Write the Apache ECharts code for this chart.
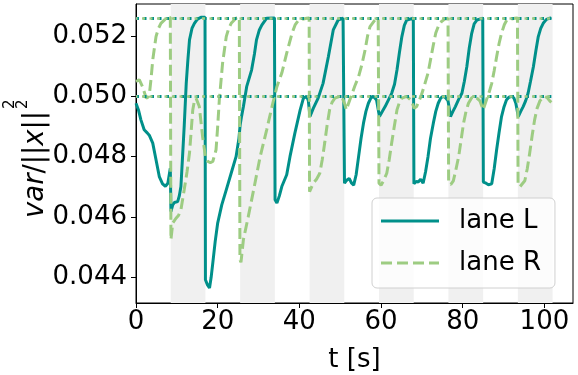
<!DOCTYPE html>
<html>
<head>
<meta charset="utf-8">
<script src="https://cdn.jsdelivr.net/npm/echarts@6.0.0/dist/echarts.min.js"></script>
<style>
  html, body { margin: 0; padding: 0; background: #fff; }
  #chart { width: 578px; height: 375px; }
</style>
</head>
<body>
<div id="chart"></div>
<script>
// lane L (teal, solid): time [s] and var/||x||^2
const tL = [0, 0.6, 1.2, 2.0, 2.8, 3.3, 4.1, 4.9, 5.7, 6.5, 7.2, 7.8, 8.4, 8.55, 9.0, 9.4, 10.2, 10.6, 11.0, 11.4, 11.8, 12.3, 12.7, 13.1, 13.7, 14.3, 15.0, 15.9, 16.9,
  17.0, 17.5, 18.0, 18.4, 18.8, 19.4, 20.0, 21.0, 22.1, 23.3, 24.5, 25.2, 25.5, 25.8, 26.3, 27.1, 28.3, 29.0, 29.5, 30.2, 30.8, 32.0, 33.9,
  34.05, 34.5, 35.1, 35.7, 36.9, 37.7, 38.9, 40.2, 41.0, 41.8, 42.2, 42.6, 43.4, 44.6, 45.8, 47.1, 48.3, 49.5, 50.7, 51.0,
  51.05, 51.6, 52.2, 52.8, 53.3, 53.9, 54.5, 55.1, 55.7, 56.3, 56.9, 57.5, 58.1, 58.9, 59.6, 60.3, 61.0, 62.6, 63.3, 63.9, 64.5, 65.1, 65.7, 66.3, 67.9,
  68.05, 68.6, 69.1, 69.7, 70.3, 70.9, 71.5, 72.1, 72.8, 73.4, 74.0, 74.6, 75.2, 75.8, 76.4, 77.0, 77.6, 78.2, 79.0, 79.8, 80.4, 81.0, 81.6, 82.2, 82.8, 83.5, 84.9,
  85.05, 85.7, 86.3, 87.1, 87.7, 88.3, 88.9, 89.5, 90.1, 90.7, 91.3, 92.0, 92.5, 93.0, 93.6, 94.2, 94.8, 95.4, 96.0, 96.6, 97.3, 97.9, 98.5, 99.1, 99.7, 100.5, 101.3, 101.7];
const vL = [0.04977, 0.04955, 0.04922, 0.04889, 0.04878, 0.04870, 0.04845, 0.04790, 0.04734, 0.04710, 0.04702, 0.04712, 0.04762, 0.04618, 0.04640, 0.04648, 0.04651, 0.04670, 0.04701, 0.04800, 0.04900, 0.05043, 0.05120, 0.05187, 0.05225, 0.05242, 0.05255, 0.05262, 0.05262,
  0.04392, 0.04375, 0.04365, 0.04400, 0.04447, 0.04520, 0.04580, 0.04640, 0.04690, 0.04745, 0.04800, 0.04860, 0.04905, 0.04930, 0.04966, 0.05032, 0.05087, 0.05140, 0.05187, 0.05220, 0.05236, 0.05259, 0.05260,
  0.04657, 0.04646, 0.04670, 0.04701, 0.04740, 0.04800, 0.04878, 0.04955, 0.04994, 0.05000, 0.04985, 0.04933, 0.04960, 0.04994, 0.05043, 0.05131, 0.05220, 0.05253, 0.05259, 0.05259,
  0.04712, 0.04722, 0.04728, 0.04712, 0.04706, 0.04740, 0.04800, 0.04860, 0.04911, 0.04950, 0.04977, 0.04994, 0.05000, 0.04988, 0.04933, 0.04950, 0.04966, 0.05010, 0.05040, 0.05087, 0.05145, 0.05198, 0.05235, 0.05253, 0.05259,
  0.04710, 0.04718, 0.04716, 0.04725, 0.04712, 0.04750, 0.04800, 0.04860, 0.04911, 0.04950, 0.04977, 0.04994, 0.05000, 0.04995, 0.04985, 0.04933, 0.04950, 0.04966, 0.04990, 0.05010, 0.05050, 0.05098, 0.05160, 0.05209, 0.05240, 0.05253, 0.05259,
  0.04716, 0.04712, 0.04707, 0.04710, 0.04760, 0.04823, 0.04880, 0.04933, 0.04965, 0.04988, 0.04997, 0.05000, 0.04995, 0.04977, 0.04933, 0.04950, 0.04966, 0.04985, 0.05010, 0.05050, 0.05098, 0.05150, 0.05198, 0.05225, 0.05242, 0.05255, 0.05259, 0.05260];

// lane R (light green, dashed)
const tR = [0, 0.8, 1.6, 2.5, 3.0, 3.3, 3.7, 4.1, 4.9, 5.5, 6.1, 7.4, 8.4,
  8.55, 9.0, 9.8, 10.4, 11.0, 11.8, 12.5, 13.1, 13.9, 14.3, 14.7, 15.1, 15.5, 16.3, 17.0, 17.6, 18.2, 18.8, 19.6, 20.0, 20.4, 21.2, 22.1, 22.7, 23.3, 24.5, 25.3,
  25.45, 25.7, 26.3, 27.5, 28.8, 30.4, 32.0, 33.3, 34.5, 35.7, 36.9, 38.2, 39.0, 39.8, 41.8, 42.4,
  42.5, 43.4, 44.2, 45.0, 45.6, 46.2, 46.8, 47.4, 48.0, 48.7, 49.9, 50.5, 51.1, 51.5, 52.0, 52.8, 53.6, 54.5, 55.3, 56.1, 56.7, 57.3, 58.5, 59.3,
  59.5, 60.0, 60.6, 61.4, 62.0, 62.6, 63.3, 63.9, 64.5, 65.1, 66.3, 67.5, 68.1, 68.7, 69.3, 69.9, 70.7, 71.5, 72.1, 72.8, 73.4, 74.0, 74.8, 75.6, 76.4,
  76.55, 77.1, 77.7, 78.3, 79.0, 79.6, 80.2, 80.8, 81.4, 82.2, 83.0, 84.2, 85.0, 85.8, 86.5, 87.1, 87.7, 88.3, 88.9, 89.5, 90.2, 90.8, 92.8, 93.4,
  93.55, 94.0, 94.4, 95.2, 95.8, 96.4, 97.0, 97.6, 98.2, 98.9, 99.5, 100.1, 100.7, 101.3, 101.7];
const vR = [0.05049, 0.05055, 0.05032, 0.04994, 0.04998, 0.05010, 0.05060, 0.05121, 0.05198, 0.05225, 0.05242, 0.05259, 0.05262,
  0.04525, 0.04580, 0.04596, 0.04605, 0.04624, 0.04690, 0.04750, 0.04812, 0.04955, 0.04985, 0.04994, 0.04990, 0.04966, 0.04867, 0.04800, 0.04784, 0.04780, 0.04784, 0.04823, 0.04900, 0.04988, 0.05110, 0.05198, 0.05225, 0.05242, 0.05259, 0.05262,
  0.04458, 0.04450, 0.04525, 0.04602, 0.04690, 0.04800, 0.04889, 0.04966, 0.05032, 0.05077, 0.05143, 0.05209, 0.05238, 0.05253, 0.05259, 0.05260,
  0.04684, 0.04712, 0.04725, 0.04745, 0.04790, 0.04845, 0.04905, 0.04955, 0.04980, 0.04994, 0.05000, 0.04995, 0.04975, 0.04955, 0.04975, 0.05005, 0.05035, 0.05065, 0.05105, 0.05154, 0.05200, 0.05231, 0.05253, 0.05259,
  0.04712, 0.04705, 0.04720, 0.04745, 0.04790, 0.04845, 0.04905, 0.04955, 0.04980, 0.04994, 0.05000, 0.04985, 0.04960, 0.04966, 0.04985, 0.05005, 0.05040, 0.05077, 0.05120, 0.05170, 0.05210, 0.05231, 0.05248, 0.05256, 0.05259,
  0.04712, 0.04708, 0.04720, 0.04755, 0.04800, 0.04855, 0.04911, 0.04950, 0.04977, 0.04995, 0.05000, 0.04985, 0.04955, 0.04988, 0.05015, 0.05043, 0.05085, 0.05131, 0.05175, 0.05209, 0.05238, 0.05253, 0.05259, 0.05260,
  0.04712, 0.04700, 0.04707, 0.04720, 0.04760, 0.04812, 0.04870, 0.04922, 0.04960, 0.04985, 0.04995, 0.05000, 0.04995, 0.04985, 0.04980];

// grey shaded intervals [start, end] in s
const bandStart = [8.5, 25.5, 42.5, 59.5, 76.5, 93.5];
const bandEnd = [17.0, 34.0, 51.0, 68.0, 85.0, 102.0];

// dotted reference levels
const refLevels = [0.0526, 0.0500];
const refEnd = 101.7;

const xTicks = [0, 20, 40, 60, 80, 100];
const yTicks = [0.044, 0.046, 0.048, 0.050, 0.052];

const FONT = 'DejaVu Sans';
const TEAL = '#00908a';
const GREEN = '#9dcc82';
const LW = 3;

// legend icons: solid line / dashed line (path scaled into itemWidth x itemHeight)
const ICON_SOLID = 'path://M0,0L58,0L58,3L0,3Z';
const ICON_DASH = 'path://M0,0L11,0L11,3L0,3ZM16,0L27,0L27,3L16,3ZM32,0L43,0L43,3L32,3ZM48,0L58,0L58,3L48,3Z';

const zip = (t, v) => t.map((x, i) => [x, v[i]]);
const refLines = () => refLevels.map((y) => [{ coord: [0, y] }, { coord: [refEnd, y] }]);

// y label "var/||x||_2^2": measure the main part so the stacked 2s sit right after it
const YL_SIZE = 27.5;
const ctx = document.createElement('canvas').getContext('2d');
ctx.font = `italic ${YL_SIZE}px "${FONT}"`;
let ylWidth = ctx.measureText('var').width + ctx.measureText('x').width;
ctx.font = `${YL_SIZE}px "${FONT}"`;
ylWidth += ctx.measureText('/||||').width;

const chart = echarts.init(document.getElementById('chart'), null, { renderer: 'canvas' });
chart.setOption({
  animation: false,
  backgroundColor: '#fff',
  grid: { left: 136, right: 5, top: 4, bottom: 72, show: true, borderColor: '#000', borderWidth: 1, outerBoundsMode: 'none' },
  xAxis: {
    type: 'value', min: 0, max: 107,
    name: 't [s]', nameLocation: 'middle', nameGap: 44,
    nameTextStyle: { fontFamily: FONT, fontSize: 26, color: '#000' },
    axisLine: { lineStyle: { color: '#000', width: 1 } },
    axisTick: { show: true, length: 5, lineStyle: { color: '#000' }, customValues: xTicks },
    axisLabel: { fontFamily: FONT, fontSize: 26, color: '#000', margin: 6, customValues: xTicks },
    splitLine: { show: false },
  },
  yAxis: {
    type: 'value', min: 0.04315, max: 0.05306,
    axisLine: { show: true, lineStyle: { color: '#000', width: 1 } },
    axisTick: { show: true, length: 5, lineStyle: { color: '#000' }, customValues: yTicks },
    axisLabel: { fontFamily: FONT, fontSize: 26, color: '#000', margin: 9, customValues: yTicks, formatter: (v) => v.toFixed(3) },
    splitLine: { show: false },
  },
  legend: {
    orient: 'vertical', left: 372, top: 198,
    padding: [8, 14, 10, 9], itemGap: 12,
    itemWidth: 58, itemHeight: 3,
    backgroundColor: 'rgba(255,255,255,0.8)', borderColor: '#d0d0d0', borderWidth: 1, borderRadius: 5,
    textStyle: { fontFamily: FONT, fontSize: 26, color: '#000', lineHeight: 30, padding: [0, 0, 0, 15] },
    data: [
      { name: 'lane L', icon: ICON_SOLID, itemStyle: { color: TEAL } },
      { name: 'lane R', icon: ICON_DASH, itemStyle: { color: GREEN } },
    ],
  },
  graphic: [{
    type: 'group', x: 43, y: 218, rotation: Math.PI / 2,
    children: [
      { type: 'text', x: 0, y: 6.9, style: { text: '{i|var}{n|/||}{i|x}{n|||}', verticalAlign: 'bottom', fill: '#000',
        rich: { i: { fontFamily: FONT, fontSize: YL_SIZE, fontStyle: 'italic' }, n: { fontFamily: FONT, fontSize: YL_SIZE } } } },
      { type: 'text', x: ylWidth + 2, y: -25.8, style: { text: '2', fontFamily: FONT, fontSize: 15, verticalAlign: 'bottom', fill: '#000' } },
      { type: 'text', x: ylWidth + 2, y: -12.8, style: { text: '2', fontFamily: FONT, fontSize: 15, verticalAlign: 'bottom', fill: '#000' } },
    ],
  }],
  series: [
    {
      name: 'lane L', type: 'line', data: zip(tL, vL), symbol: 'none', z: 3,
      lineStyle: { color: TEAL, width: LW }, itemStyle: { color: TEAL },
      markArea: {
        silent: true, itemStyle: { color: '#f0f0f0' },
        data: bandStart.map((s, i) => [{ xAxis: s }, { xAxis: bandEnd[i] }]),
      },
      markLine: {
        silent: true, symbol: 'none', label: { show: false },
        lineStyle: { color: TEAL, width: LW, type: [3, 4.5] },
        data: refLines(),
      },
    },
    {
      name: 'lane R', type: 'line', data: zip(tR, vR), symbol: 'none', z: 4,
      lineStyle: { color: GREEN, width: LW, type: [11, 5] }, itemStyle: { color: GREEN },
      markLine: {
        silent: true, symbol: 'none', label: { show: false },
        lineStyle: { color: GREEN, width: 2.7, type: [3, 4.5], dashOffset: 1.5 },
        data: refLines(),
      },
    },
  ],
});
</script>
</body>
</html>
